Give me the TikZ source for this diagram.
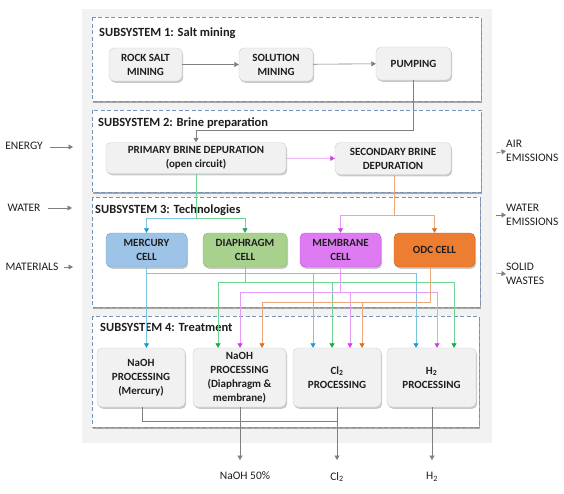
\documentclass[tikz,border=0pt]{standalone}
\usepackage{fontspec}
\setmainfont{Carlito}
\usetikzlibrary{arrows.meta,shadows}
\definecolor{bgfill}{HTML}{F2F2F2}
\definecolor{subdash}{HTML}{7393BB}
\definecolor{boxfill}{HTML}{F1F1F1}
\definecolor{boxline}{HTML}{CFCFCF}
\definecolor{txt}{HTML}{1E1E1E}
\definecolor{gline}{HTML}{7F7F7F}
\definecolor{blueL}{HTML}{7CC4E0}
\definecolor{blueT}{HTML}{1A9AD6}
\definecolor{greenL}{HTML}{6FD394}
\definecolor{greenT}{HTML}{17A84B}
\definecolor{magL}{HTML}{E79AF7}
\definecolor{magT}{HTML}{D33CF2}
\definecolor{oraL}{HTML}{EBA77A}
\definecolor{oraT}{HTML}{E06D1E}
\definecolor{mercF}{HTML}{9DC3E6}
\definecolor{mercD}{HTML}{6FA6D8}
\definecolor{diaF}{HTML}{A9D18E}
\definecolor{diaD}{HTML}{86BE66}
\definecolor{memF}{HTML}{DE7BF2}
\definecolor{memD}{HTML}{C24AE6}
\definecolor{odcF}{HTML}{ED7D31}
\definecolor{odcD}{HTML}{CF6420}
\begin{document}
\begin{tikzpicture}[x=1pt,y=-1pt,
  every node/.style={text=txt},
  box/.style={draw=boxline, fill=boxfill, rounded corners=5pt, align=center, inner sep=1pt,
    font=\bfseries\fontsize{11}{14}\selectfont,
    drop shadow={shadow xshift=1.2pt, shadow yshift=-1.8pt, opacity=0.35, fill=black!60}},
  sub/.style={draw=subdash, dash pattern=on 4pt off 2.5pt, line width=1pt, fill=white,
    drop shadow={shadow xshift=1.2pt, shadow yshift=-1.8pt, opacity=0.45, fill=black!70}},
  title/.style={anchor=west, inner sep=0pt, font=\bfseries\fontsize{12.5}{14}\selectfont},
  side/.style={inner sep=0pt, align=left, font=\fontsize{11.5}{14}\selectfont},
  gtip/.style={draw=gline, line width=0.6pt, -{Triangle[width=5pt,length=4.5pt]}},
  gln/.style={draw=gline, line width=0.6pt},
  bln/.style={draw=blueL, line width=0.8pt},
  btip/.style={bln, -{Triangle[width=5pt,length=4.5pt,color=blueT]}},
  grln/.style={draw=greenL, line width=0.8pt},
  grtip/.style={grln, -{Triangle[width=5pt,length=4.5pt,color=greenT]}},
  mln/.style={draw=magL, line width=0.8pt},
  mtip/.style={mln, -{Triangle[width=5pt,length=4.5pt,color=magT]}},
  oln/.style={draw=oraL, line width=0.8pt},
  otip/.style={oln, -{Triangle[width=5pt,length=4.5pt,color=oraT]}}
]
\useasboundingbox (0,0) rectangle (564,493);
\fill[bgfill] (82,9) rectangle (492,443);

% subsystem frames
\draw[sub] (92,17) rectangle (481,101);
\draw[sub] (92,110) rectangle (481,192);
\draw[sub] (92,197) rectangle (480,307);
\draw[sub] (92,316) rectangle (479,427);

\node[title] (t1) at (99,33) {SUBSYSTEM 1: Salt mining};
\node[title] (t2) at (98,123) {SUBSYSTEM 2: Brine preparation};
\node[title] (t3) at (95,210) {SUBSYSTEM 3: Technologies};
\node[title] (t4) at (100,327) {SUBSYSTEM 4: Treatment};

% subsystem 1
\node[box, minimum width=73pt, minimum height=33pt] (rock) at (145.5,64.5) {ROCK SALT\\MINING};
\node[box, minimum width=74pt, minimum height=33pt] (sol) at (276,64.5) {SOLUTION\\MINING};
\node[box, minimum width=75pt, minimum height=33pt] (pump) at (413.5,63.5) {PUMPING};

% subsystem 2
\node[box, minimum width=180pt, minimum height=31pt] (prim) at (196,158) {PRIMARY BRINE DEPURATION\\(open circuit)};
\node[box, minimum width=116pt, minimum height=32pt] (sec) at (393,158.5) {SECONDARY BRINE\\DEPURATION};

% subsystem 3
\node[box, fill=mercF, draw=mercD, minimum width=81pt, minimum height=34pt] (merc) at (146.5,250) {MERCURY\\CELL};
\node[box, fill=diaF, draw=diaD, minimum width=84pt, minimum height=34pt] (dia) at (245,250) {DIAPHRAGM\\CELL};
\node[box, fill=memF, draw=memD, minimum width=81pt, minimum height=34pt] (mem) at (340.5,250) {MEMBRANE\\CELL};
\node[box, fill=odcF, draw=odcD, minimum width=81pt, minimum height=34pt] (odc) at (434.5,250) {ODC CELL};

% subsystem 4
\node[box, minimum width=88pt, minimum height=59pt] (nm) at (141,377.5) {NaOH\\PROCESSING\\(Mercury)};
\node[box, minimum width=93pt, minimum height=59pt] (nd) at (239.5,377.5) {NaOH\\PROCESSING\\(Diaphragm \&\\membrane)};
\node[box, minimum width=88pt, minimum height=59pt] (cl) at (337,377.5) {Cl\textsubscript{2}\\PROCESSING};
\node[box, minimum width=89pt, minimum height=59pt] (hh) at (431.5,377.5) {H\textsubscript{2}\\PROCESSING};

% flow subsystem 1/2
\draw[gtip] (rock) -- (sol);
\draw[gtip] (sol) -- (pump);
\draw[gtip] (pump.south) -- (413.5,130) -- (196,130) -- (prim.north);
\draw[mtip] (prim) -- (sec);

% primary -> mercury / diaphragm
\draw[grln] (prim.south) -- (196,218);
\draw[btip] (196,218) -- (146.5,218) -- (merc.north);
\draw[grtip] (196,218) -- (245,218) -- (dia.north);
% secondary -> membrane / odc
\draw[oln] (sec.south -| 394,0) -- (394,215);
\draw[mtip] (394,215) -- (340.5,215) -- (mem.north);
\draw[otip] (394,215) -- (434.5,215) -- (odc.north);

% mercury cell outputs
\draw[btip] (merc.south) -- (merc.south |- nm.north);
\draw[bln] (146.5,273) -- (416,273);
\draw[btip] (313,273) -- (313,273 |- cl.north);
\draw[btip] (416,273) -- (416,273 |- hh.north);
% diaphragm outputs
\draw[grln] (dia.south) -- (245,282);
\draw[grln] (218,282) -- (454,282);
\draw[grtip] (218,282) -- (218,282 |- nd.north);
\draw[grtip] (332,282) -- (332,282 |- cl.north);
\draw[grtip] (454,282) -- (454,282 |- hh.north);
% membrane outputs
\draw[mln] (mem.south) -- (340.5,292);
\draw[mln] (240,292) -- (437,292);
\draw[mtip] (240,292) -- (240,292 |- nd.north);
\draw[mtip] (350,292) -- (350,292 |- cl.north);
\draw[mtip] (437,292) -- (437,292 |- hh.north);
% odc outputs
\draw[oln] (odc.south -| 430,0) -- (430,302) -- (262,302);
\draw[otip] (262,302) -- (262,302 |- nd.north);
\draw[otip] (362,302) -- (362,302 |- cl.north);

% products
\coordinate (naohout) at (240,460);
\coordinate (clout) at (337,460);
\coordinate (hout) at (432,460);
\draw[gln] (nm.south -| 142,0) -- (142,421) -- (337,421);
\draw[gtip] (nd.south -| 240,0) -- (naohout);
\draw[gtip] (cl.south) -- (clout);
\draw[gtip] (hh.south -| 432,0) -- (hout);
\node[side] (lnaoh) at (245,476) {NaOH 50\%};
\node[side] (lcl) at (337,477) {Cl\textsubscript{2}};
\node[side] (lh) at (432,477) {H\textsubscript{2}};

% side inputs
\node[side] (energy) at (24,146) {ENERGY};
\node[side] (water) at (24,208) {WATER};
\node[side] (mat) at (32,267) {MATERIALS};
\coordinate (eA) at (50,147); \coordinate (eB) at (73,147);
\coordinate (wA) at (48,208); \coordinate (wB) at (72,208);
\coordinate (mA) at (64,267); \coordinate (mB) at (73,267);
\draw[gtip] (eA) -- (eB);
\draw[gtip] (wA) -- (wB);
\draw[gtip] (mA) -- (mB);

% side outputs
\node[side, anchor=west] (air) at (506,151) {AIR\\EMISSIONS};
\node[side, anchor=west] (wem) at (506,215) {WATER\\EMISSIONS};
\node[side, anchor=west] (sw) at (506,274) {SOLID\\WASTES};
\coordinate (aA) at (496,153);
\coordinate (bA) at (496,215);
\coordinate (cA) at (496,273);
\draw[gtip] (aA) -- (air.west);
\draw[gtip] (bA) -- (wem.west);
\draw[gtip] (cA) -- (sw.west);
\end{tikzpicture}
\end{document}
